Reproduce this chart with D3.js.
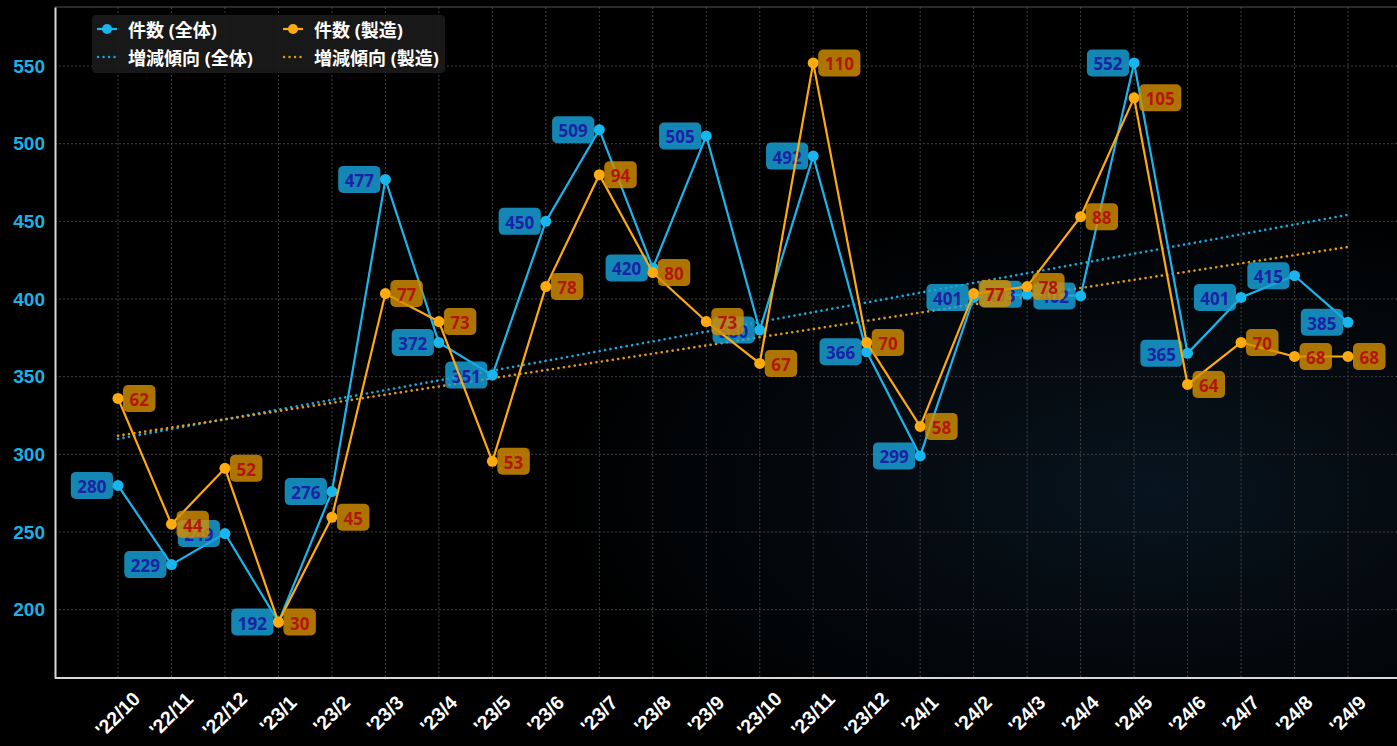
<!DOCTYPE html>
<html><head><meta charset="utf-8">
<script src="https://cdn.jsdelivr.net/npm/d3@7"></script>
<style>
html,body{margin:0;padding:0;background:#000;}
svg{display:block;font-family:"Noto Sans","Noto Sans CJK JP",sans-serif;}
</style></head>
<body>
<svg id="chart" width="1397" height="746"></svg>
<script>
const months = ["'22/10","'22/11","'22/12","'23/1","'23/2","'23/3","'23/4","'23/5","'23/6","'23/7","'23/8","'23/9","'23/10","'23/11","'23/12","'24/1","'24/2","'24/3","'24/4","'24/5","'24/6","'24/7","'24/8","'24/9"];
const totalCounts = [280,229,249,192,276,477,372,351,450,509,420,505,380,492,366,299,401,403,402,552,365,401,415,385];
const mfgCounts = [62,44,52,30,45,77,73,53,78,94,80,73,67,110,70,58,77,78,88,105,64,70,68,68];
const yTicks = [200,250,300,350,400,450,500,550];
const legendLabels = ["件数 (全体)","件数 (製造)","増減傾向 (全体)","増減傾向 (製造)"];

const W = 1397, H = 746;
const plot = {left:55, right:1397, top:7, bottom:678};
const svg = d3.select("#chart");

const defs = svg.append("defs");
const rg = defs.append("radialGradient").attr("id","bgGlow").attr("cx","0.82").attr("cy","0.72").attr("r","0.45");
rg.append("stop").attr("offset","0").attr("stop-color","#08141e");
rg.append("stop").attr("offset","1").attr("stop-color","#000");
svg.append("rect").attr("width",W).attr("height",H).attr("fill","#000");
svg.append("rect").attr("x",plot.left).attr("y",plot.top).attr("width",plot.right-plot.left).attr("height",plot.bottom-plot.top).attr("fill","url(#bgGlow)");

const x = d3.scalePoint().domain(months).range([118,1348]);
const yB = d3.scaleLinear().domain([156,588]).range([plot.bottom,plot.top]);
const yO = d3.scaleLinear().domain([22,118]).range([plot.bottom,plot.top]);

const grid = svg.append("g");
grid.selectAll("line.h").data(yTicks).join("line")
  .attr("x1",plot.left).attr("x2",plot.right).attr("y1",d=>yB(d)).attr("y2",d=>yB(d))
  .attr("stroke","#474747").attr("stroke-width",0.9).attr("stroke-dasharray","2,2");
grid.selectAll("line.v").data(months).join("line")
  .attr("x1",d=>x(d)).attr("x2",d=>x(d)).attr("y1",plot.top).attr("y2",plot.bottom)
  .attr("stroke","#474747").attr("stroke-width",0.9).attr("stroke-dasharray","2,2");
svg.append("line").attr("x1",plot.left).attr("x2",plot.right).attr("y1",plot.top).attr("y2",plot.top)
  .attr("stroke","#555").attr("stroke-width",1);

const yAxis = d3.axisLeft(yB).tickValues(yTicks).tickSize(0).tickPadding(10);
const gy = svg.append("g").attr("transform",`translate(${plot.left},0)`).call(yAxis);
gy.select(".domain").attr("stroke","#d8d8d8").attr("stroke-width",2);
gy.selectAll("text").attr("fill","#1ab2e6").attr("font-size",19).attr("font-weight","bold");

const xAxis = d3.axisBottom(x).tickSize(0).tickPadding(0);
const gx = svg.append("g").attr("transform",`translate(0,${plot.bottom})`).call(xAxis);
gx.select(".domain").attr("d",`M${plot.left},0H${plot.right}`).attr("stroke","#d8d8d8").attr("stroke-width",2);
gx.selectAll("text")
  .attr("fill","#fff").attr("font-size",19.5).attr("font-weight","bold")
  .attr("text-anchor","middle").attr("dy",null).attr("y",null)
  .attr("dominant-baseline","central")
  .attr("transform","translate(-1,36) rotate(-45)");

function fit(vals){
  const n = vals.length, xs = d3.range(n);
  const mx = d3.mean(xs), my = d3.mean(vals);
  const b = d3.sum(xs,(i)=> (i-mx)*(vals[i]-my)) / d3.sum(xs,i=>(i-mx)*(i-mx));
  const a = my - b*mx;
  return xs.map(i=>a+b*i);
}
const trendB = fit(totalCounts), trendO = fit(mfgCounts);
svg.append("path").datum(trendB)
  .attr("d",d3.line().x((d,i)=>x(months[i])).y(d=>yB(d)))
  .attr("fill","none").attr("stroke","#1aa8dc").attr("stroke-width",2.6)
  .attr("stroke-dasharray","0.1,5.4").attr("stroke-linecap","round");
svg.append("path").datum(trendO)
  .attr("d",d3.line().x((d,i)=>x(months[i])).y(d=>yO(d)))
  .attr("fill","none").attr("stroke","#e39a12").attr("stroke-width",2.6)
  .attr("stroke-dasharray","0.1,5.4").attr("stroke-linecap","round");

const blue = "#19b6ee", orange = "#ffaa0d";
svg.append("path").datum(totalCounts)
  .attr("d",d3.line().x((d,i)=>x(months[i])).y(d=>yB(d)))
  .attr("fill","none").attr("stroke",blue).attr("stroke-width",2.2);
svg.append("g").selectAll("circle").data(totalCounts).join("circle")
  .attr("cx",(d,i)=>x(months[i])).attr("cy",d=>yB(d)).attr("r",5.5).attr("fill",blue);

function labels(vals, yS, side, fill, textFill){
  const g = svg.append("g");
  vals.forEach((v,i)=>{
    const px = x(months[i]), py = yS(v);
    const t = g.append("text").text(v).attr("font-size",17).attr("font-weight","bold")
      .attr("fill",textFill).attr("dominant-baseline","central").attr("text-anchor","middle");
    const tw = t.node().getComputedTextLength();
    const bw = tw + 13, bh = 27;
    const cx = side<0 ? px - 5 - bw/2 : px + 5 + bw/2;
    g.insert("rect", () => t.node())
      .attr("x",cx-bw/2).attr("y",py-bh/2).attr("width",bw).attr("height",bh)
      .attr("rx",5).attr("fill",fill).attr("fill-opacity",0.82);
    t.attr("x",cx).attr("y",py+1);
  });
}
labels(totalCounts, yB, -1, "#19a3da", "#1a22a6");

svg.append("path").datum(mfgCounts)
  .attr("d",d3.line().x((d,i)=>x(months[i])).y(d=>yO(d)))
  .attr("fill","none").attr("stroke",orange).attr("stroke-width",2.2);
svg.append("g").selectAll("circle").data(mfgCounts).join("circle")
  .attr("cx",(d,i)=>x(months[i])).attr("cy",d=>yO(d)).attr("r",5.5).attr("fill",orange);
labels(mfgCounts, yO, 1, "#d38f00", "#b3160e");

const lg = svg.append("g");
lg.append("rect").attr("x",92).attr("y",15).attr("width",353).attr("height",58).attr("rx",4)
  .attr("fill","#1b1b1b").attr("fill-opacity",0.9);
const items = [
  {label:legendLabels[0], color:blue, type:"line", col:0, row:0},
  {label:legendLabels[1], color:orange, type:"line", col:1, row:0},
  {label:legendLabels[2], color:"#1aa8dc", type:"dot", col:0, row:1},
  {label:legendLabels[3], color:"#e39a12", type:"dot", col:1, row:1}
];
const colX = [97,283], rowY = [29,57];
items.forEach(it=>{
  const x0 = colX[it.col], y0 = rowY[it.row];
  if(it.type==="line"){
    lg.append("line").attr("x1",x0).attr("x2",x0+20).attr("y1",y0).attr("y2",y0)
      .attr("stroke",it.color).attr("stroke-width",2.2);
    lg.append("circle").attr("cx",x0+10).attr("cy",y0).attr("r",5).attr("fill",it.color);
  } else {
    lg.append("line").attr("x1",x0+1).attr("x2",x0+20).attr("y1",y0).attr("y2",y0)
      .attr("stroke",it.color).attr("stroke-width",2.4).attr("stroke-dasharray","0.1,5.4").attr("stroke-linecap","round");
  }
  lg.append("text").attr("x",x0+31).attr("y",y0+1).text(it.label)
    .attr("fill","#fff").attr("font-size",18).attr("font-weight","bold").attr("dominant-baseline","central");
});
</script>
</body></html>
